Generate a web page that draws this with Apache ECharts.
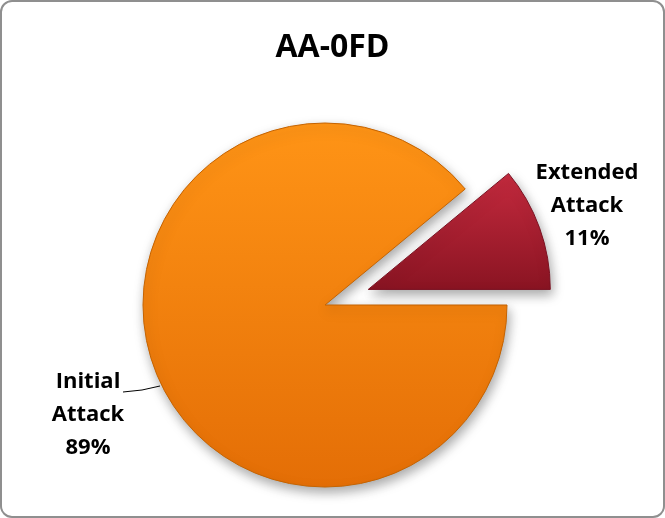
<!DOCTYPE html>
<html>
<head>
<meta charset="utf-8">
<script src="https://cdn.jsdelivr.net/npm/echarts@6/dist/echarts.min.js"></script>
<style>
html,body{margin:0;padding:0;background:#fff;}
#frame{width:665px;height:518px;box-sizing:border-box;border:2px solid #8f8f8f;border-radius:12px;background:#fff;overflow:hidden;}
#chart{width:661px;height:514px;}
</style>
</head>
<body>
<div id="frame"><div id="chart"></div></div>
<script>
const titleText = 'AA-0FD';
const categories = ['Extended Attack', 'Initial Attack'];
const values = [11, 89];
const explodedIndex = 0;

const colorsTop = ['#c42a3e', '#ff9416'];
const colorsBottom = ['#8a1422', '#e46e06'];
const borders = ['#7a1020', '#c56300'];

const chart = echarts.init(document.getElementById('chart'));
const total = values.reduce((a, b) => a + b, 0);

const pieCenter = [323, 303];
const explodeDist = 46;
const startAngle = 360 * values[0] / total;
const midAngle = (startAngle / 2) * Math.PI / 180;
const explodedCenter = [pieCenter[0] + explodeDist * Math.cos(midAngle), pieCenter[1] - explodeDist * Math.sin(midAngle)];

const labelPos = [
  {x: 585, y: 204},
  {x: 86, y: 413, line: [[158, 384], [140, 388], [121, 390]]}
];

function makeData(visibleFn) {
  return categories.map((c, i) => {
    const vis = visibleFn(i);
    return {
      name: c,
      value: values[i],
      itemStyle: vis ? {
        color: {type: 'linear', x: 0, y: 0, x2: 0, y2: 1,
          colorStops: [{offset: 0, color: colorsTop[i]}, {offset: 1, color: colorsBottom[i]}]},
        borderColor: borders[i],
        borderWidth: 1,
        shadowBlur: 12,
        shadowColor: 'rgba(0,0,0,0.35)',
        shadowOffsetY: 5,
        shadowOffsetX: 2
      } : {color: 'rgba(0,0,0,0)', borderWidth: 0, shadowBlur: 0},
      label: {show: vis},
      labelLine: {show: vis && i !== explodedIndex}
    };
  });
}

function makeSeries(center, visibleFn) {
  return {
    type: 'pie',
    center: center,
    radius: 182,
    startAngle: startAngle,
    clockwise: true,
    emphasis: {disabled: true},
    label: {
      show: true,
      position: 'outside',
      formatter: p => p.name.replace(' ', '\n') + '\n' + Math.round(p.percent) + '%',
      fontFamily: 'Open Sans',
      fontWeight: 'bold',
      fontSize: 22,
      lineHeight: 33,
      color: '#000',
      align: 'center',
      overflow: 'none',
      width: 200
    },
    labelLine: {lineStyle: {color: '#000', width: 1}},
    labelLayout: function (params) {
      const p = labelPos[params.dataIndex];
      const r = {x: p.x, y: p.y, align: 'center', verticalAlign: 'middle'};
      if (p.line) r.labelLinePoints = p.line;
      return r;
    },
    data: makeData(visibleFn)
  };
}

chart.setOption({
  animation: false,
  title: {
    text: titleText,
    left: 'center',
    top: 25,
    textStyle: {fontFamily: 'Open Sans', fontWeight: 'bold', fontSize: 32, color: '#000'}
  },
  series: [
    makeSeries(pieCenter, i => i !== explodedIndex),
    makeSeries(explodedCenter, i => i === explodedIndex)
  ]
});
</script>
</body>
</html>
